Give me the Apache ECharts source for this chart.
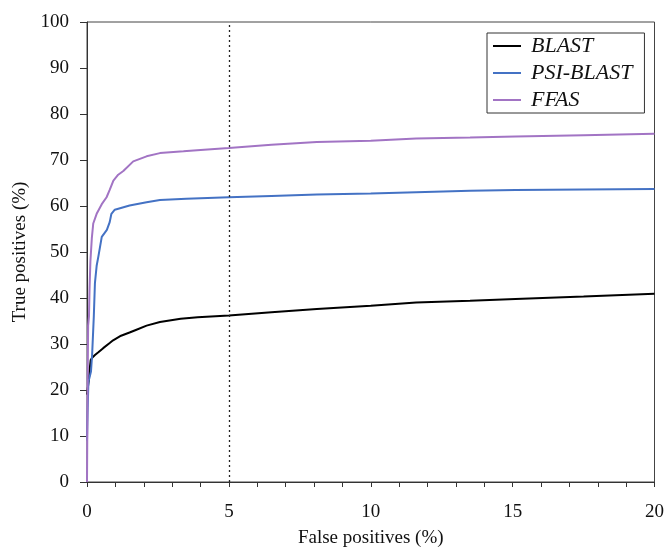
<!DOCTYPE html>
<html>
<head>
<meta charset="utf-8">
<script src="https://cdn.jsdelivr.net/npm/echarts@6/dist/echarts.min.js"></script>
<style>html,body{margin:0;padding:0;background:#fff}#c{width:667px;height:553px}</style>
</head>
<body>
<div id="c"></div>
<script>
const seriesNames = ['BLAST', 'PSI-BLAST', 'FFAS'];
const blastX = [0, 0.03, 0.06, 0.1, 0.13, 0.18, 0.28, 0.4, 0.57, 0.8, 0.92, 1.2, 1.5, 1.7, 2.1, 2.57, 3.3, 3.9, 5.0, 6.5, 8.1, 10, 11.6, 13.5, 15.1, 17.5, 20];
const blastY = [19, 20.5, 22, 24.8, 26.5, 27, 27.6, 28.2, 29.1, 30.2, 30.8, 31.8, 32.5, 33, 34, 34.8, 35.5, 35.8, 36.2, 36.9, 37.6, 38.3, 39.0, 39.4, 39.8, 40.3, 40.9];
const psiX = [0, 0.02, 0.05, 0.08, 0.14, 0.18, 0.24, 0.28, 0.34, 0.4, 0.52, 0.7, 0.8, 0.86, 0.98, 1.5, 2.1, 2.57, 3.5, 5, 6.5, 8.1, 10, 11.6, 13.5, 15.1, 17.5, 20];
const psiY = [9, 15, 21.9, 22.5, 24, 27.6, 36, 43.3, 47, 49, 53.3, 54.8, 56.5, 58.3, 59.2, 60.1, 60.8, 61.3, 61.6, 61.9, 62.2, 62.5, 62.7, 63, 63.3, 63.5, 63.6, 63.7];
const ffasX = [0, 0.02, 0.04, 0.07, 0.09, 0.12, 0.17, 0.22, 0.34, 0.52, 0.69, 0.8, 0.93, 1.1, 1.28, 1.63, 2.1, 2.57, 3.4, 4.0, 5, 6.5, 8.1, 10, 11.6, 13.5, 15.1, 17.5, 20];
const ffasY = [0, 20, 34, 36, 42, 48, 53, 56.2, 58.3, 60.4, 61.9, 63.5, 65.5, 66.8, 67.6, 69.7, 70.8, 71.5, 71.9, 72.2, 72.6, 73.3, 73.9, 74.2, 74.7, 74.9, 75.1, 75.4, 75.7];
const cutoffX = 5;
const colors = ['#000000', '#4472c4', '#a274c4'];

const pairs = (xs, ys) => xs.map((x, i) => [x, ys[i]]);
const font = 'Liberation Serif, Times New Roman, serif';

const chart = echarts.init(document.getElementById('c'));
chart.setOption({
  animation: false,
  grid: { left: 87, right: 12, top: 22, bottom: 64, show: true, borderColor: '#444', borderWidth: 1 },
  legend: {
    orient: 'vertical', left: 487, top: 33,
    data: seriesNames,
    icon: 'rect', itemWidth: 28, itemHeight: 2, itemGap: 5,
    borderColor: '#333', borderWidth: 1, padding: [2, 12, 2, 6],
    textStyle: { fontFamily: font, fontStyle: 'italic', fontSize: 22, color: '#111', padding: [0, 0, 0, 5] }
  },
  xAxis: {
    type: 'value', min: 0, max: 20, interval: 1,
    name: 'False positives (%)', nameLocation: 'middle', nameGap: 47,
    nameTextStyle: { fontFamily: font, fontSize: 19, color: '#111' },
    axisLine: { lineStyle: { color: '#333' } },
    axisTick: { show: true, length: 5, lineStyle: { color: '#333' } },
    axisLabel: { margin: 21, fontFamily: font, fontSize: 19, color: '#111', formatter: v => (v % 5 === 0 ? String(v) : '') },
    splitLine: { show: false }
  },
  yAxis: {
    type: 'value', min: 0, max: 100, interval: 10,
    name: 'True positives (%)', nameLocation: 'middle', nameGap: 57,
    nameTextStyle: { fontFamily: font, fontSize: 19, color: '#111' },
    axisLine: { show: true, lineStyle: { color: '#333' } },
    axisTick: { show: true, length: 7, lineStyle: { color: '#333' } },
    axisLabel: { margin: 18, fontFamily: font, fontSize: 19, color: '#111' },
    splitLine: { show: false }
  },
  series: [
    { name: seriesNames[0], type: 'line', data: pairs(blastX, blastY), showSymbol: false, lineStyle: { width: 2, color: colors[0] }, itemStyle: { color: colors[0] },
      markLine: { silent: true, symbol: 'none', label: { show: false }, lineStyle: { type: [2, 3], color: '#222', width: 1.3 }, data: [{ xAxis: cutoffX }] } },
    { name: seriesNames[1], type: 'line', data: pairs(psiX, psiY), showSymbol: false, lineStyle: { width: 2, color: colors[1] }, itemStyle: { color: colors[1] } },
    { name: seriesNames[2], type: 'line', data: pairs(ffasX, ffasY), showSymbol: false, lineStyle: { width: 2, color: colors[2] }, itemStyle: { color: colors[2] } }
  ]
});
</script>
</body>
</html>
